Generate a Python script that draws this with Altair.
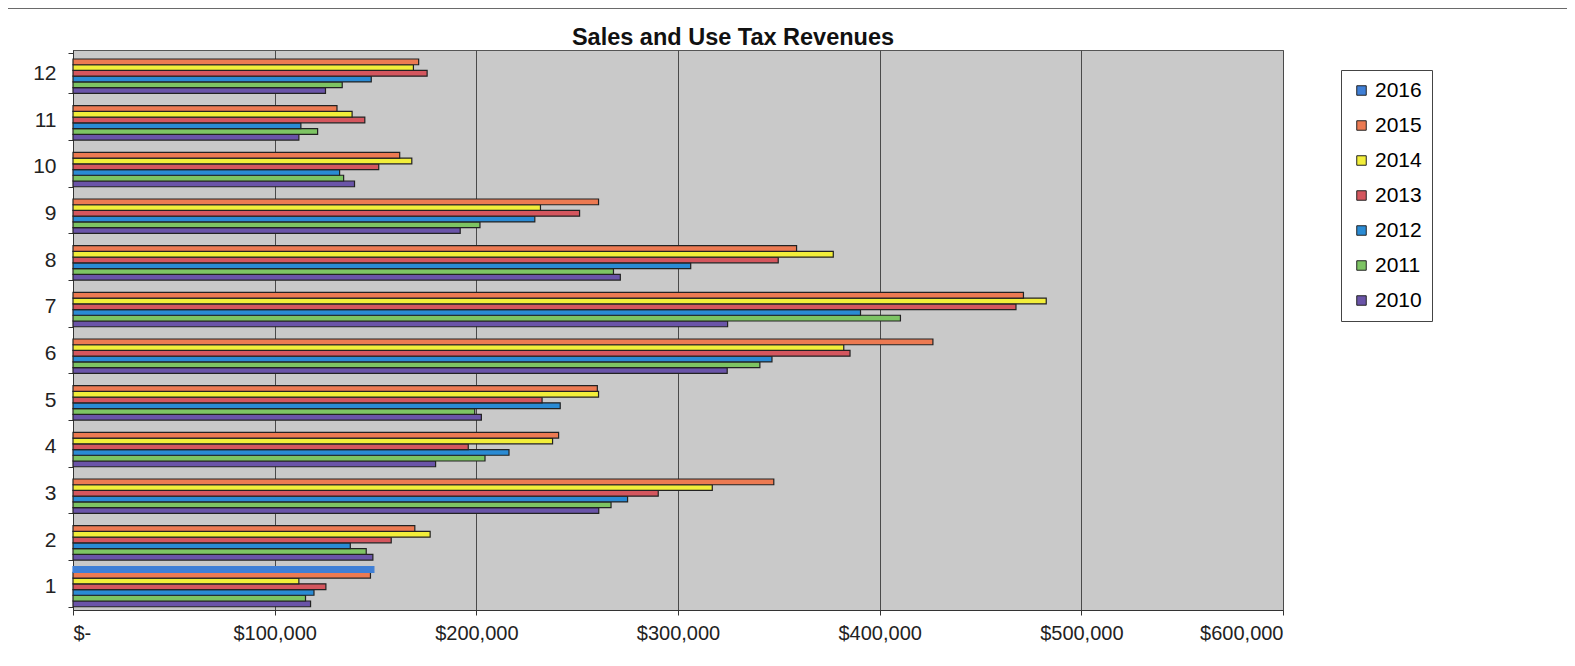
import altair as alt
import pandas as pd

months = list(range(1, 13))
years = ["2010", "2011", "2012", "2013", "2014", "2015", "2016"]

rev_2010 = [117800, 148700, 260700, 179800, 202500, 324400, 324600, 271400, 192000, 139600, 112000, 125200]
rev_2011 = [115300, 145400, 266800, 204300, 199200, 340600, 410300, 268000, 201800, 134200, 121300, 133500]
rev_2012 = [119500, 137500, 275000, 216200, 241600, 346600, 390500, 306300, 229000, 132200, 113000, 147900]
rev_2013 = [125400, 157800, 290200, 196000, 232600, 385300, 467600, 349700, 251200, 151600, 144700, 175600]
rev_2014 = [112000, 177100, 317000, 237800, 260600, 382200, 482600, 377000, 231800, 168000, 138400, 168800]
rev_2015 = [147500, 169500, 347500, 240800, 260000, 426400, 471300, 358800, 260600, 162000, 130900, 171400]
rev_2016 = [149200]

colors = ["#6a54a8", "#7dc463", "#2a8bd4", "#d4565e", "#f2ee3a", "#ec7a52", "#3f7fd6"]
x_ticks = [0, 100000, 200000, 300000, 400000, 500000, 600000]
title_text = "Sales and Use Tax Revenues"

series = [rev_2010, rev_2011, rev_2012, rev_2013, rev_2014, rev_2015, rev_2016]
rows = []
for yr, vals in zip(years, series):
    for m, v in zip(months, vals):
        rows.append({"Month": m, "Year": yr, "Revenue": v})
df = pd.DataFrame(rows)

FONT = "Liberation Sans"

bars = alt.Chart(df).mark_bar(strokeWidth=1.2).encode(
    x=alt.X("Revenue:Q",
            scale=alt.Scale(domain=[0, 600000], nice=False),
            axis=alt.Axis(values=x_ticks, title=None, grid=True,
                          labelExpr="datum.value == 0 ? '$-' : '$' + format(datum.value, ',')",
                          labelFontSize=20, labelPadding=8, tickSize=5)),
    y=alt.Y("Month:O", sort="descending",
            scale=alt.Scale(paddingInner=0.14, paddingOuter=0.07),
            axis=alt.Axis(title=None, grid=False, labelFontSize=21, labelPadding=12,
                          tickSize=5, tickBand="extent", labelAngle=0)),
    yOffset=alt.YOffset("Year:N", sort="descending", scale=alt.Scale(paddingInner=0, paddingOuter=0)),
    color=alt.Color("Year:N",
                    scale=alt.Scale(domain=years[::-1], range=colors[::-1]),
                    legend=alt.Legend(title=None, orient="none", legendX=1268, legendY=20,
                                      strokeColor="#444", fillColor="white", padding=10,
                                      labelFontSize=21, labelFont=FONT, symbolType="square",
                                      symbolSize=90, symbolStrokeColor="#222",
                                      symbolStrokeWidth=1, rowPadding=13, labelOffset=3)),
    stroke=alt.condition("datum.Year == '2016'", alt.value("#3f7fd6"), alt.value("#222222")),
)

one_df = pd.DataFrame({"k": [0]})
top_line = alt.Chart(one_df).mark_rule(color="#6a6a6a", strokeWidth=2).encode(
    x=alt.value(-73), x2=alt.value(1502), y=alt.value(-42)
)
title_mark = alt.Chart(one_df).mark_text(
    font=FONT, fontSize=23.5, fontWeight="bold", color="#111",
    align="center", baseline="alphabetic"
).encode(
    x=alt.value(660), y=alt.value(-5), text=alt.value(title_text)
)

chart = alt.layer(bars, top_line, title_mark).properties(
    width=1210, height=560,
    autosize=alt.AutoSizeParams(type="none"),
    padding={"left": 65, "top": 42, "right": 284, "bottom": 48},
).configure_view(
    fill="#c9c9c9", stroke="#555555", strokeWidth=1
).configure_axis(
    labelFont=FONT, labelColor="#222", gridColor="#4a4a4a", gridWidth=1,
    domainColor="#333", tickColor="#333"
)

chart.save("out.html", embed_options={"renderer": "svg", "actions": False})
